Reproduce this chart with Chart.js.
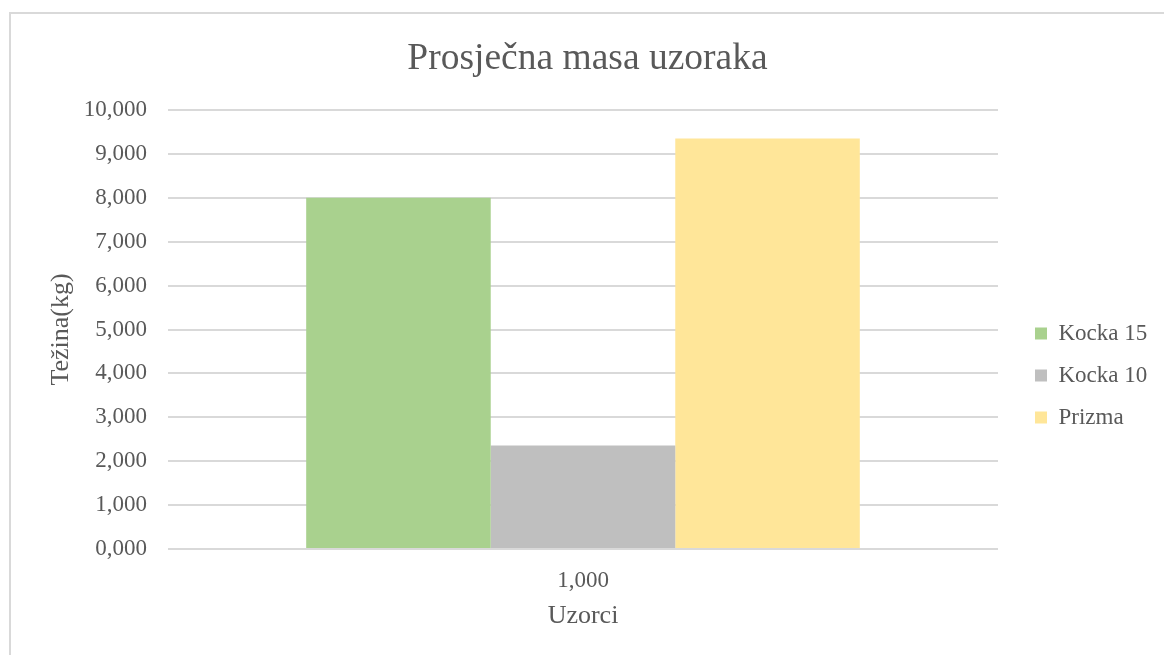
<!DOCTYPE html>
<html>
<head>
<meta charset="utf-8">
<script src="https://cdn.jsdelivr.net/npm/chart.js@4.4.1/dist/chart.umd.min.js"></script>
<style>
  html, body { margin: 0; padding: 0; background: #fff; overflow: hidden; }
  #frame {
    position: absolute; left: 9px; top: 12px;
    width: 1153px; height: 641px;
    border-left: 2px solid #d9d9d9; border-top: 2px solid #d9d9d9;
  }
  #massChart { display: block; }
</style>
</head>
<body>
<div id="frame"><canvas id="massChart" width="1153" height="641"></canvas></div>
<script>
const categories = ['1,000'];
const seriesNames = ['Kocka 15', 'Kocka 10', 'Prizma'];
const kocka15 = [8.0];
const kocka10 = [2.36];
const prizma = [9.35];
const seriesColors = ['#a9d18e', '#bfbfbf', '#ffe699'];

const textColor = '#595959';
const serif = 'Liberation Serif, Times New Roman, serif';
const fmt = (v) => Number(v).toFixed(3).replace('.', ',');

// legend sits to the right of the plot, nudged to line up with the boxes
const legendPlacement = {
  id: 'legendPlacement',
  beforeInit(chart) {
    const fit = chart.legend.fit;
    chart.legend.fit = function () {
      fit.call(this);
      this.width = 166;
    };
  },
  afterLayout(chart) {
    const lg = chart.legend;
    lg.left += 18; lg.right += 18;
    lg.top += 41; lg.bottom += 41;
  },
};

const ctx = document.getElementById('massChart');
new Chart(ctx, {
  type: 'bar',
  data: {
    labels: categories,
    datasets: [kocka15, kocka10, prizma].map((data, i) => ({
      label: seriesNames[i],
      data,
      backgroundColor: seriesColors[i],
      borderWidth: 0,
      categoryPercentage: 0.667,
      barPercentage: 1,
    })),
  },
  options: {
    responsive: false, animation: false,
    layout: { padding: 0 },
    plugins: {
      title: {
        display: true, text: 'Prosječna masa uzoraka', color: textColor,
        font: { family: serif, size: 37.5, weight: 'normal' },
        padding: { top: 23, bottom: 28 },
      },
      legend: {
        position: 'right',
        labels: {
          color: textColor, boxWidth: 12, boxHeight: 12, padding: 19,
          font: { family: serif, size: 23 },
        },
      },
      tooltip: { enabled: false },
    },
    scales: {
      x: {
        grid: { display: false }, border: { display: false },
        ticks: { color: textColor, font: { family: serif, size: 23 }, padding: 10 },
        title: {
          display: true, text: 'Uzorci', color: textColor,
          font: { family: serif, size: 26 }, padding: { top: 4, bottom: 23 },
        },
        afterFit: (scale) => { scale.height = 106; },
      },
      y: {
        min: 0, max: 10,
        grid: { color: '#d9d9d9', lineWidth: 2, drawTicks: false }, border: { display: false },
        ticks: {
          stepSize: 1, color: textColor, padding: 21,
          font: { family: serif, size: 23 },
          callback: (value) => fmt(value),
        },
        title: {
          display: true, text: 'Težina(kg)', color: textColor,
          font: { family: serif, size: 26 }, padding: { top: 35, bottom: 0 },
        },
        afterFit: (scale) => { scale.width = 157; },
      },
    },
  },
  plugins: [legendPlacement],
});
</script>
</body>
</html>
